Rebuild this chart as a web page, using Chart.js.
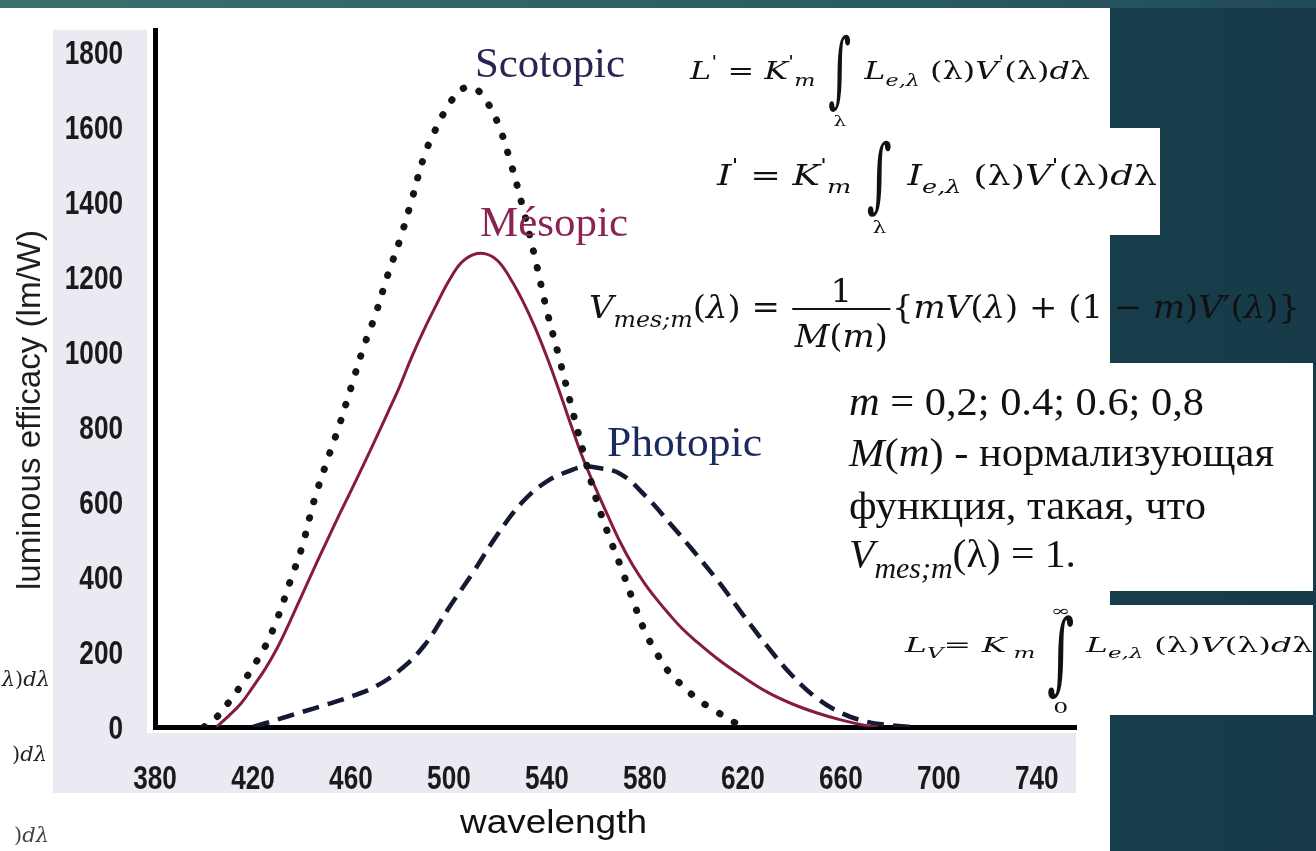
<!DOCTYPE html>
<html>
<head>
<meta charset="utf-8">
<script src="https://cdn.jsdelivr.net/npm/chart.js@4"></script>
<style>
html, body { margin: 0; padding: 0; }
body { width: 1316px; height: 851px; overflow: hidden; position: relative;
       background: linear-gradient(90deg, #1f4a57 0%, #1a4250 60%, #163a48 100%); }
.strip { position: absolute; left: 0; top: 0; width: 1316px; height: 8px;
         background: linear-gradient(90deg, #3b706c, #2a5a62 70%, #214b57); }
.wb { position: absolute; background: #fff; }
#graph { position: absolute; left: 0; top: 0; }
</style>
</head>
<body>
<div class="strip"></div>
<div class="wb" style="left:0;top:8px;width:1110px;height:843px"></div>
<div class="wb" style="left:1110px;top:128px;width:50px;height:107px"></div>
<div class="wb" style="left:1110px;top:363px;width:203px;height:228px"></div>
<div class="wb" style="left:1110px;top:605px;width:203px;height:110px"></div>
<canvas id="graph" width="1316" height="851"></canvas>
<script>
// tick labels
const xTicks = [380, 420, 460, 500, 540, 580, 620, 660, 700, 740];
const yTicks = [0, 200, 400, 600, 800, 1000, 1200, 1400, 1600, 1800];

// scotopic (dotted)
const scotopicNm = [400, 405, 410, 415, 420, 425, 430, 435, 440, 445, 450, 455, 460, 465, 470, 475, 480, 485, 490, 495,
                    500, 505, 510, 515, 520, 525, 530, 535, 540, 545, 550, 555, 560, 565, 570, 575, 580, 585, 590, 595,
                    600, 605, 610, 615, 620];
const scotopicEff = [0, 25, 65, 110, 160, 215, 290, 385, 480, 605, 705, 800, 905, 1010, 1100, 1205, 1300, 1410, 1525, 1600,
                     1660, 1700, 1705, 1672, 1610, 1510, 1390, 1255, 1110, 985, 855, 730, 610, 515, 430, 340, 255, 195, 145, 112,
                     82, 58, 38, 18, 0];

// mesopic (solid)
const mesopicNm = [405, 410, 415, 420, 425, 430, 435, 440, 445, 450, 455, 460, 465, 470, 475, 480, 485, 490, 495, 500,
                   505, 510, 515, 520, 525, 530, 535, 540, 545, 550, 555, 560, 565, 570, 575, 580, 585, 590, 595, 600,
                   610, 620, 630, 640, 650, 660, 670, 675];
const mesopicEff = [0, 29, 62, 107, 155, 212, 280, 352, 424, 494, 563, 630, 698, 767, 838, 910, 990, 1062, 1128, 1190,
                    1238, 1260, 1262, 1243, 1197, 1138, 1068, 987, 897, 802, 712, 635, 562, 492, 432, 382, 339, 300, 264, 234,
                    180, 134, 93, 62, 38, 19, 4, 0];

// photopic (dashed)
const photopicNm = [420, 430, 440, 450, 460, 470, 480, 490, 500, 510, 520, 530, 540, 550, 555, 560, 570, 580, 590, 600,
                    610, 620, 630, 640, 650, 660, 670, 680, 690];
const photopicEff = [0, 20, 40, 60, 81, 108, 152, 218, 318, 414, 515, 600, 655, 685, 694, 692, 675, 618, 545, 468,
                     388, 300, 215, 138, 78, 38, 15, 5, 0];

const toPoints = (xs, ys) => xs.map((x, i) => ({ x: x, y: ys[i] }));

const FORM = '"DejaVu Serif", serif';
const TIMES = '"Liberation Serif", "Times New Roman", serif';
const SANS = '"Liberation Sans", Arial, sans-serif';

function runFont(r, size, fam) {
    return (r.i ? 'italic ' : '') + (r.b ? 'bold ' : '') + (size * (r.s || 1)) + 'px ' + fam;
}
function runsWidth(ctx, runs, size, fam) {
    let w = 0;
    for (const r of runs) w += runW(ctx, r, size, fam);
    return w;
}
function runW(ctx, r, size, fam) {
    if (r.int) return r.w * size;
    if (r.frac) {
        const a = runsWidth(ctx, r.num, size, fam), b = runsWidth(ctx, r.den, size, fam);
        return Math.max(a, b) + 2 * r.pad * size;
    }
    ctx.font = runFont(r, size, fam);
    return ctx.measureText(r.t).width;
}
function paintIntegral(ctx, r, cx, y0, fam) {
    ctx.save();
    ctx.font = '100px ' + fam;
    const m = ctx.measureText('∫');
    const h = m.actualBoundingBoxAscent + m.actualBoundingBoxDescent;
    const k = (r.top + r.bot) / h;
    const gwNat = m.actualBoundingBoxLeft + m.actualBoundingBoxRight;
    ctx.translate(cx, y0);
    ctx.scale(r.gw / gwNat, k);
    ctx.textAlign = 'center';
    ctx.fillText('∫', 0, -r.top / k + m.actualBoundingBoxAscent);
    ctx.restore();
    ctx.save();
    ctx.font = r.lim + 'px ' + fam;
    ctx.textAlign = 'center';
    if (r.lo) ctx.fillText(r.lo, cx, y0 + r.loY);
    if (r.hi) ctx.fillText(r.hi, cx, y0 + r.hiY);
    ctx.restore();
}
function paintRuns(ctx, runs, size, fam, x0, y0) {
    let cx = x0;
    for (const r of runs) {
        const w = runW(ctx, r, size, fam);
        if (r.int) {
            paintIntegral(ctx, r, cx + w / 2, y0, fam);
        } else if (r.frac) {
            const a = runsWidth(ctx, r.num, size, fam), b = runsWidth(ctx, r.den, size, fam);
            paintRuns(ctx, r.num, size, fam, cx + (w - a) / 2, y0 + r.numY);
            paintRuns(ctx, r.den, size, fam, cx + (w - b) / 2, y0 + r.denY);
            ctx.fillRect(cx + r.pad * size * 0.4, y0 + r.barY - 1, w - r.pad * size * 0.8, 2);
        } else {
            ctx.font = runFont(r, size, fam);
            ctx.fillText(r.t, cx, y0 + (r.dy || 0) * size);
        }
        cx += w;
    }
}
function drawText(ctx, spec) {
    ctx.save();
    ctx.fillStyle = spec.color || '#111';
    ctx.textAlign = 'left';
    ctx.textBaseline = 'alphabetic';
    const nat = runsWidth(ctx, spec.runs, spec.size, spec.fam);
    const sx = spec.w ? spec.w / nat : (spec.sx || 1);
    ctx.translate(spec.x, spec.y);
    if (spec.rot) ctx.rotate(spec.rot);
    ctx.scale(sx, 1);
    let x0 = 0;
    if (spec.align === 'right') x0 = -nat;
    if (spec.align === 'center') x0 = -nat / 2;
    paintRuns(ctx, spec.runs, spec.size, spec.fam, x0, 0);
    ctx.restore();
}

const texts = [
    // curve names
    { x: 475, y: 77, size: 42, fam: TIMES, w: 150, color: '#2b2352', runs: [{ t: 'Scotopic' }] },
    { x: 480, y: 236, size: 42, fam: TIMES, w: 148, color: '#8a2454', runs: [{ t: 'Mésopic' }] },
    { x: 607, y: 456, size: 42, fam: TIMES, w: 155, color: '#1b2a5e', runs: [{ t: 'Photopic' }] },
    // axis titles
    { x: 40, y: 590, size: 33, fam: SANS, w: 360, rot: -Math.PI / 2, color: '#1e1e1e',
      runs: [{ t: 'luminous efficacy (lm/W)' }] },
    { x: 460, y: 833, size: 33, fam: SANS, w: 187, color: '#111', runs: [{ t: 'wavelength' }] },
    // formulas
    { x: 690, y: 79, size: 24, fam: FORM, w: 400, runs: [
        { t: 'L', i: 1 }, { t: "'", s: .7, dy: -.5 }, { t: ' = ' }, { t: 'K', i: 1 }, { t: "'", s: .7, dy: -.5 },
        { t: 'm', i: 1, s: .7, dy: .3 }, { t: ' ' },
        { int: 1, w: .9, top: 44, bot: 34, gw: 16, lo: 'λ', loY: 47, lim: 15 },
        { t: ' ' }, { t: 'L', i: 1 }, { t: 'e,λ', i: 1, s: .7, dy: .3 }, { t: ' (λ)' }, { t: 'V', i: 1 },
        { t: "'", s: .7, dy: -.5 }, { t: '(λ)' }, { t: 'd', i: 1 }, { t: 'λ' }] },
    { x: 717, y: 185, size: 27, fam: FORM, w: 440, runs: [
        { t: 'I', i: 1 }, { t: "'", s: .7, dy: -.5 }, { t: ' = ' }, { t: 'K', i: 1 }, { t: "'", s: .7, dy: -.5 },
        { t: 'm', i: 1, s: .7, dy: .3 }, { t: ' ' },
        { int: 1, w: .9, top: 45, bot: 32, gw: 17, lo: 'λ', loY: 48, lim: 16 },
        { t: ' ' }, { t: 'I', i: 1 }, { t: 'e,λ', i: 1, s: .7, dy: .3 }, { t: ' (λ)' }, { t: 'V', i: 1 },
        { t: "'", s: .7, dy: -.5 }, { t: '(λ)' }, { t: 'd', i: 1 }, { t: 'λ' }] },
    { x: 589, y: 318, size: 32, fam: FORM, w: 711, runs: [
        { t: 'V', i: 1 }, { t: 'mes;m', i: 1, s: .7, dy: .28 }, { t: '(' }, { t: 'λ', i: 1 }, { t: ')' }, { t: ' = ' },
        { frac: 1, pad: .12, numY: -16, denY: 29, barY: -9, num: [{ t: '1' }],
          den: [{ t: 'M', i: 1 }, { t: '(' }, { t: 'm', i: 1 }, { t: ')' }] },
        { t: '{' }, { t: 'mV', i: 1 }, { t: '(' }, { t: 'λ', i: 1 }, { t: ') + (1 − ' }, { t: 'm', i: 1 }, { t: ')' },
        { t: 'V', i: 1 }, { t: '′(' }, { t: 'λ', i: 1 }, { t: ')}' }] },
    { x: 905, y: 652, size: 21, fam: FORM, w: 408, runs: [
        { t: 'L', i: 1 }, { t: 'V', i: 1, s: .7, dy: .3 }, { t: '= ' }, { t: 'K', i: 1 }, { t: ' m', i: 1, s: .7, dy: .3 },
        { t: ' ' },
        { int: 1, w: .9, top: 37, bot: 48, gw: 16, hi: '∞', hiY: -36, lo: '0', loY: 61, lim: 15 },
        { t: ' ' }, { t: 'L', i: 1 }, { t: 'e,λ', i: 1, s: .7, dy: .3 }, { t: ' (λ)' }, { t: 'V', i: 1 },
        { t: '(λ)' }, { t: 'd', i: 1 }, { t: 'λ' }] },
    // text block
    { x: 849, y: 415, size: 40, fam: TIMES, w: 355, runs: [{ t: 'm', i: 1 }, { t: ' = 0,2; 0.4; 0.6; 0,8' }] },
    { x: 849, y: 466, size: 40, fam: TIMES, w: 425, runs: [
        { t: 'M', i: 1 }, { t: '(' }, { t: 'm', i: 1 }, { t: ') - нормализующая' }] },
    { x: 849, y: 519, size: 40, fam: TIMES, w: 357, runs: [{ t: 'функция, такая, что' }] },
    { x: 849, y: 567, size: 40, fam: TIMES, w: 227, runs: [
        { t: 'V', i: 1 }, { t: 'mes;m', i: 1, s: .72, dy: .28 }, { t: '(λ) = 1.' }] },
    // cut-off formula ends at the left edge
    { x: 50, y: 686, size: 21, fam: FORM, align: 'right', color: '#222',
      runs: [{ t: 'λ', i: 1 }, { t: ')' }, { t: 'd', i: 1 }, { t: 'λ', i: 1 }] },
    { x: 47, y: 761, size: 21, fam: FORM, align: 'right', color: '#222',
      runs: [{ t: ')' }, { t: 'd', i: 1 }, { t: 'λ', i: 1 }] },
    { x: 49, y: 842, size: 21, fam: FORM, align: 'right', color: '#444',
      runs: [{ t: ')' }, { t: 'd', i: 1 }, { t: 'λ', i: 1 }] }
];

const decor = {
    id: 'decor',
    beforeDraw(chart) {
        const ctx = chart.ctx, ca = chart.chartArea;
        ctx.save();
        ctx.fillStyle = '#e9eaf2';
        ctx.fillRect(ca.left - 102, ca.top, 94, ca.bottom + 66 - ca.top);
        ctx.fillRect(ca.left - 102, ca.bottom + 6, ca.right - ca.left + 102, 60);
        ctx.restore();
    },
    afterDraw(chart) {
        const ctx = chart.ctx, xs = chart.scales.x, ys = chart.scales.y;
        // tick labels, narrow bold digits placed by the scales
        xTicks.forEach(v => drawText(ctx, {
            x: xs.getPixelForValue(v), y: ys.bottom + 62, size: 34, fam: SANS, sx: 0.77, align: 'center',
            color: '#1a1a1a', runs: [{ t: String(v), b: 1 }] }));
        yTicks.forEach(v => drawText(ctx, {
            x: xs.left - 32, y: ys.getPixelForValue(v) + 12, size: 34, fam: SANS, sx: 0.77, align: 'right',
            color: '#1a1a1a', runs: [{ t: String(v), b: 1 }] }));
        texts.forEach(t => drawText(ctx, t));
    }
};

const graph = document.getElementById('graph');
const ctx = graph.getContext('2d');

const myChart = new Chart(ctx, {
    type: 'line',
    data: {
        datasets: [
            {
                label: 'Scotopic',
                data: toPoints(scotopicNm, scotopicEff),
                borderColor: '#141414',
                borderWidth: 7,
                borderDash: [0.5, 16.5],
                borderCapStyle: 'round',
                tension: 0.4,
                pointRadius: 0,
                fill: false
            },
            {
                label: 'Mesopic',
                data: toPoints(mesopicNm, mesopicEff),
                borderColor: '#861a45',
                borderWidth: 3,
                tension: 0.4,
                pointRadius: 0,
                fill: false
            },
            {
                label: 'Photopic',
                data: toPoints(photopicNm, photopicEff),
                borderColor: '#151a33',
                borderWidth: 4.5,
                borderDash: [17, 9],
                tension: 0.4,
                pointRadius: 0,
                fill: false
            }
        ]
    },
    options: {
        responsive: false,
        animation: false,
        layout: { padding: { left: 0, top: 30, right: 240, bottom: 54 } },
        plugins: { legend: { display: false }, tooltip: { enabled: false } },
        scales: {
            x: {
                type: 'linear',
                min: 380,
                max: 756,
                grid: { display: false },
                border: { display: true, color: '#000', width: 5 },
                afterBuildTicks: s => { s.ticks = xTicks.map(v => ({ value: v })); },
                ticks: { display: false },
                afterFit: s => { s.height = 70; }
            },
            y: {
                min: 0,
                max: 1859,
                grid: { display: false },
                border: { display: true, color: '#000', width: 5 },
                afterBuildTicks: s => { s.ticks = yTicks.map(v => ({ value: v })); },
                ticks: { display: false },
                afterFit: s => { s.width = 155; }
            }
        }
    },
    plugins: [decor]
});
</script>
</body>
</html>
